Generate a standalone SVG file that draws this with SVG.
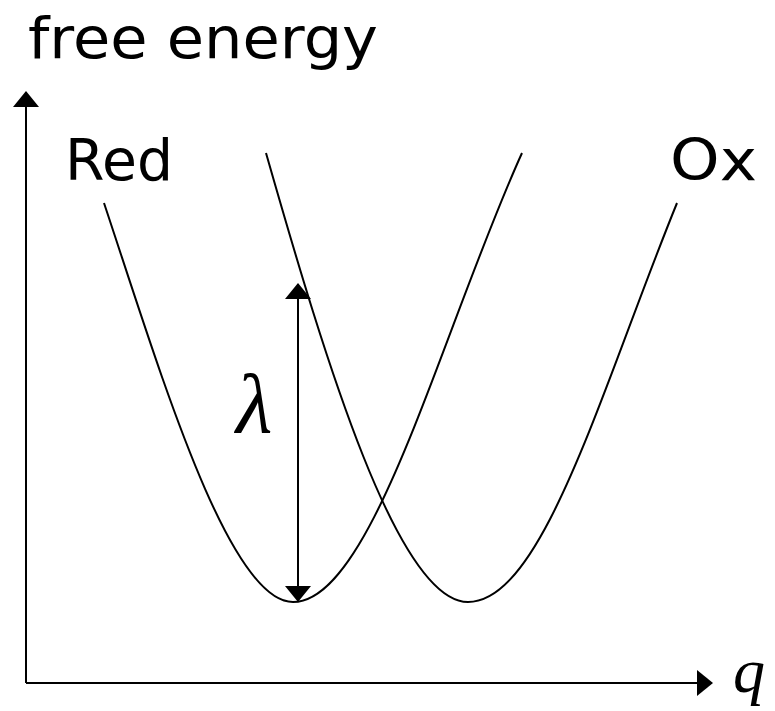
<svg xmlns="http://www.w3.org/2000/svg" width="775" height="711" viewBox="0 0 775 711">
<style>
.ln{fill:none;stroke:#000;stroke-width:2}
.lbl{font-family:"DejaVu Sans",sans-serif;font-size:57px;fill:#000}
.sym{font-family:"Liberation Serif",serif;font-style:italic;fill:#000}
</style>
<defs>
<marker id="ah" viewBox="0 0 16 26" refX="15" refY="13" markerWidth="16" markerHeight="26" markerUnits="userSpaceOnUse" orient="auto">
<path d="M0,0 L16,13 L0,26 Z" fill="#000"/>
</marker>
</defs>
<rect width="775" height="711" fill="#fff"/>
<g id="connectors">
<line class="ln" x1="26" y1="683" x2="26" y2="92" marker-end="url(#ah)"/>
<line class="ln" x1="26" y1="683" x2="712" y2="683" marker-end="url(#ah)"/>
<line class="ln" x1="298" y1="440" x2="298" y2="284" marker-end="url(#ah)"/>
<line class="ln" x1="298" y1="440" x2="298" y2="601" marker-end="url(#ah)"/>
</g>
<g id="red-curve">
<path class="ln" d="M104,203 C159,368 228,602 293,602 C373,602 442,329 522,153"/>
</g>
<g id="ox-curve">
<path class="ln" d="M266,153 C326,363 398,602 468,602 C543,602 602,387 677,203"/>
</g>
<g id="labels">
<text class="lbl" x="28" y="58" textLength="350" lengthAdjust="spacingAndGlyphs">free energy</text>
<text class="lbl" x="65" y="180" textLength="108" lengthAdjust="spacingAndGlyphs">Red</text>
<text class="lbl" x="670" y="180" textLength="87" lengthAdjust="spacingAndGlyphs">Ox</text>
<text class="sym" x="236" y="432" font-size="84">λ</text>
<text class="sym" x="733" y="692" font-size="64">q</text>
</g>
</svg>
